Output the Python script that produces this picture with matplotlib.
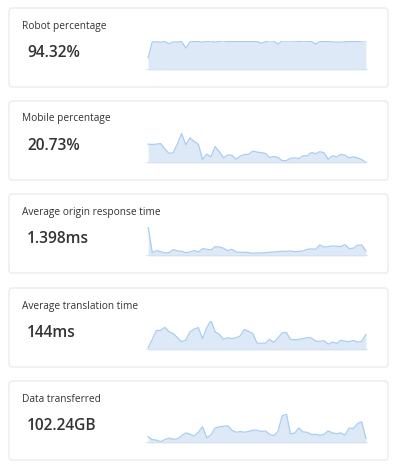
import numpy as np
import matplotlib
matplotlib.use('Agg')
import matplotlib.pyplot as plt
from matplotlib.patches import FancyBboxPatch

# card titles / headline values
titles = ['Robot percentage', 'Mobile percentage', 'Average origin response time',
          'Average translation time', 'Data transferred']
values = ['94.32%', '20.73%', '1.398ms', '144ms', '102.24GB']

# sparkline series (53 buckets each)
robot_pct = [40.7, 93.5, 93.5, 92.4, 94.6, 86.9, 93.5, 92.4, 94.6, 72.6, 93.5, 94.6, 94.6,
             92.4, 94.6, 95.7, 92.4, 94.6, 96.8, 93.5, 94.6, 94.6, 94.6, 94.6, 94.6, 94.6,
             94.6, 89.1, 93.5, 96.8, 95.7, 85.8, 96.8, 95.7, 96.8, 95.7, 94.6, 95.7, 95.7,
             94.6, 85.8, 94.6, 94.6, 94.6, 93.5, 92.4, 92.4, 93.5, 94.6, 94.6, 94.6, 95.7, 97.9]
mobile_pct = [28.5, 28.2, 28.5, 29.1, 24.3, 20.4, 21.0, 28.8, 37.8, 27.9, 33.9, 30.9, 28.5,
              15.0, 19.8, 17.4, 26.4, 21.9, 16.5, 18.9, 18.9, 15.3, 18.0, 19.5, 19.5, 22.5,
              21.6, 21.0, 20.4, 16.8, 17.7, 16.8, 14.1, 14.1, 16.2, 16.5, 15.9, 18.3, 18.3,
              21.3, 20.1, 21.9, 21.0, 15.3, 18.3, 17.4, 19.5, 18.9, 16.5, 17.4, 16.5, 15.0, 12.6]
origin_ms = [6.64, 0.76, 1.21, 0.98, 0.68, 0.76, 1.43, 1.13, 1.06, 0.76, 0.91, 1.21, 0.91,
             1.66, 1.51, 1.36, 2.11, 2.04, 1.74, 1.21, 1.51, 0.91, 0.83, 0.83, 0.76, 0.60,
             0.68, 0.68, 0.76, 0.83, 0.91, 0.98, 1.06, 1.06, 1.13, 0.98, 1.06, 1.13, 1.51,
             1.59, 1.51, 2.49, 2.04, 2.11, 2.27, 2.19, 2.11, 2.57, 1.66, 1.74, 2.42, 2.49, 1.13]
translation_ms = [22, 115, 211, 211, 244, 196, 178, 133, 89, 107, 196, 226, 241, 122, 241,
                  318, 196, 170, 115, 133, 122, 133, 152, 222, 200, 178, 74, 74, 74, 115,
                  81, 130, 185, 189, 115, 111, 115, 122, 133, 130, 96, 93, 100, 63, 85, 70,
                  104, 96, 89, 104, 85, 93, 167]
data_gb = [1.12, 0.62, 0.50, 0.25, 0.62, 0.87, 0.68, 0.74, 1.30, 1.80, 1.55, 1.24, 1.92,
           2.91, 0.93, 1.43, 2.67, 2.91, 2.98, 3.10, 2.29, 1.92, 2.05, 1.92, 2.05, 2.29,
           2.29, 2.05, 2.17, 1.55, 1.30, 2.05, 4.84, 5.27, 1.61, 1.80, 2.67, 1.98, 1.92,
           1.49, 1.55, 1.36, 1.55, 2.17, 1.80, 1.67, 1.80, 1.43, 2.67, 2.60, 3.47, 3.78, 0.81]
series = [robot_pct, mobile_pct, origin_ms, translation_ms, data_gb]
floors = [0, 12, 0, 0, 0]

W, H = 398, 467
fig = plt.figure(figsize=(W / 100, H / 100), dpi=100)
fig.patch.set_facecolor('white')

line_c = '#a9cdf1'
fill_c = '#dde9f7'
text_c = '#333333'

card_tops = [8, 101, 194, 288, 381]
for i, top in enumerate(card_tops):
    # card box (pixel coords -> figure fraction), kept behind the sparkline axes
    x0, x1 = 9, 388
    ch = 79
    box = FancyBboxPatch((x0 / W, 1 - (top + ch) / H), (x1 - x0) / W, ch / H,
                         boxstyle='round,pad=0,rounding_size=0.008',
                         transform=fig.transFigure, facecolor='white',
                         edgecolor='#e9e9e9', linewidth=0.9, zorder=-5)
    fig.patches.append(box)

    fig.text(22 / W, 1 - (top + 18) / H, titles[i], fontsize=7.3, color=text_c,
             family='Open Sans', va='center', ha='left')
    fig.text(27 / W, 1 - (top + 45) / H, values[i], fontsize=11.2, color=text_c,
             family='Open Sans', weight='semibold', va='center', ha='left')

    # sparkline
    base = top + 62
    ah = 29.5
    ax = fig.add_axes([146 / W, 1 - base / H, 222 / W, ah / H])
    ax.set_zorder(2)
    ax.patch.set_alpha(0)
    y = np.array(series[i])
    x = np.arange(len(y))
    ax.fill_between(x, floors[i], y, color=fill_c, linewidth=0)
    ax.plot(x, y, color=line_c, linewidth=0.9)
    ax.axhline(floors[i], color='#d3e1f2', linewidth=1.2)
    ax.set_xlim(-0.5, len(y) - 0.5)
    ax.set_ylim(floors[i], y.max())
    ax.axis('off')

fig.savefig('out.png', dpi=100, facecolor='white')
